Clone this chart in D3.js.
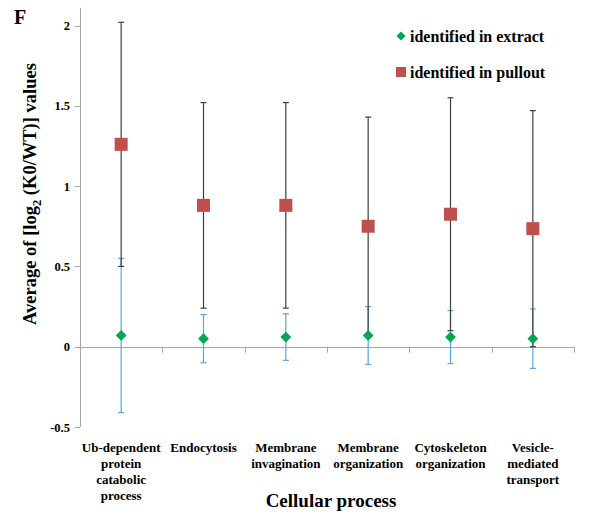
<!DOCTYPE html>
<html><head><meta charset="utf-8">
<script src="https://cdn.jsdelivr.net/npm/d3@7"></script>
<style>body{margin:0;background:#fff}</style>
</head><body><svg id="c" width="596" height="517" font-family="'Liberation Serif', 'Times New Roman', Times, 'DejaVu Serif', serif"></svg>
<script>
const categories = [
  ["Ub-dependent","protein","catabolic","process"],
  ["Endocytosis"],
  ["Membrane","invagination"],
  ["Membrane","organization"],
  ["Cytoskeleton","organization"],
  ["Vesicle-","mediated","transport"]
];
const extractMean = [0.07, 0.05, 0.06, 0.07, 0.06, 0.05];
const extractErr  = [0.48, 0.15, 0.145, 0.18, 0.165, 0.185];
const pulloutMean = [1.26, 0.88, 0.88, 0.75, 0.825, 0.735];
const pulloutErr  = [0.76, 0.64, 0.64, 0.68, 0.725, 0.735];
const yTicks = [-0.5, 0, 0.5, 1, 1.5, 2];
const seriesNames = ["identified in extract", "identified in pullout"];

const svg = d3.select("#c");
const x = d3.scaleBand().domain(d3.range(categories.length)).range([80, 574]).paddingInner(0).paddingOuter(0);
const y = d3.scaleLinear().domain([-0.5, 2]).range([427, 25.5]);

svg.append("line").attr("x1",80.5).attr("x2",80.5).attr("y1",y(-0.5)).attr("y2",y(2.11)).attr("stroke","#a6a6a6");
const yg = svg.append("g");
yTicks.forEach(t=>{
  yg.append("line").attr("x1",75).attr("x2",80).attr("y1",Math.round(y(t))+0.5).attr("y2",Math.round(y(t))+0.5).attr("stroke","#a6a6a6");
  yg.append("text").attr("x",70).attr("y",y(t)+4.5).attr("text-anchor","end").attr("font-size",12.5).attr("font-weight","bold").text(t);
});
svg.append("line").attr("x1",80).attr("x2",574).attr("y1",Math.round(y(0))+0.5).attr("y2",Math.round(y(0))+0.5).attr("stroke","#a6a6a6");
d3.range(1, categories.length+1).forEach(i=>{
  const xx = Math.round(x.step()*i + 80)+0.5;
  svg.append("line").attr("x1",xx).attr("x2",xx).attr("y1",y(0)).attr("y2",y(0)+6).attr("stroke","#a6a6a6");
});

const cx = i => x(i) + x.bandwidth()/2;
function errBar(i, m, e, color){
  const g = svg.append("g").attr("stroke",color).attr("stroke-width",1.2);
  const X = cx(i);
  g.append("line").attr("x1",X).attr("x2",X).attr("y1",y(m-e)).attr("y2",y(m+e));
  g.append("line").attr("x1",X-3).attr("x2",X+3).attr("y1",y(m-e)).attr("y2",y(m-e));
  g.append("line").attr("x1",X-3).attr("x2",X+3).attr("y1",y(m+e)).attr("y2",y(m+e));
}
extractMean.forEach((m,i)=>errBar(i,m,extractErr[i],"#5aa5e0"));
pulloutMean.forEach((m,i)=>errBar(i,m,pulloutErr[i],"#3f3f3f"));

const diamond = d3.symbol().type(d3.symbolSquare).size(58);
extractMean.forEach((m,i)=>{
  svg.append("path").attr("d",diamond()).attr("fill","#00a651")
    .attr("transform",`translate(${cx(i)},${y(m)}) rotate(45)`);
});
pulloutMean.forEach((m,i)=>{
  svg.append("rect").attr("x",cx(i)-6.5).attr("y",y(m)-6.5).attr("width",13).attr("height",13).attr("fill","#c0504d");
});

categories.forEach((lines,i)=>{
  const t = svg.append("text").attr("text-anchor","middle").attr("font-size",13).attr("font-weight","bold");
  lines.forEach((l,j)=>t.append("tspan").attr("x",cx(i)).attr("y",452+j*16).text(l));
});

svg.append("text").attr("x",331).attr("y",507).attr("text-anchor","middle").attr("font-size",19).attr("font-weight","bold").text("Cellular process");
const yt = svg.append("text").attr("transform","translate(36,194) rotate(-90)").attr("text-anchor","middle").attr("font-size",18.5).attr("font-weight","bold");
yt.append("tspan").text("Average of [log");
yt.append("tspan").attr("font-size",12.5).attr("dy",5).text("2");
yt.append("tspan").attr("dy",-5).text(" (K0/WT)] values");

svg.append("text").attr("x",14).attr("y",24).attr("font-size",20).attr("font-weight","bold").text("F");

svg.append("path").attr("d",d3.symbol().type(d3.symbolSquare).size(40)()).attr("fill","#00a651").attr("transform","translate(401,36) rotate(45)");
svg.append("text").attr("x",410).attr("y",42).attr("font-size",16).attr("font-weight","bold").text(seriesNames[0]);
svg.append("rect").attr("x",396).attr("y",67).attr("width",10).attr("height",10).attr("fill","#c0504d");
svg.append("text").attr("x",410).attr("y",78).attr("font-size",16).attr("font-weight","bold").text(seriesNames[1]);
</script></body></html>
